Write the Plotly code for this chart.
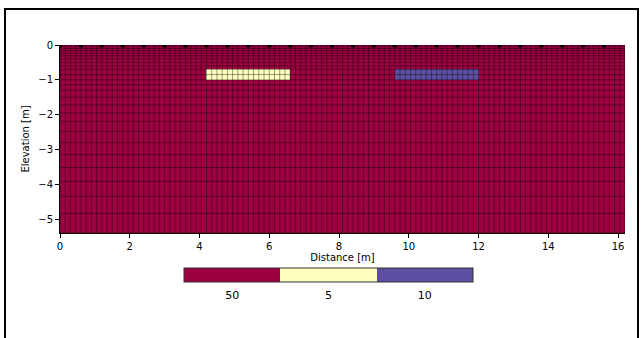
import numpy as np
import plotly.graph_objects as go

# ---- data ----
x_edges = np.round(np.arange(0, 16.2001, 0.15), 4)          # mesh column edges [m]
depth_edges = [0, 0.05, 0.1, 0.16, 0.23, 0.31, 0.4, 0.5, 0.6, 0.7, 0.85, 1.0,
               1.14, 1.3, 1.5, 1.72, 1.95, 2.2, 2.48, 2.8, 3.15, 3.52, 3.92,
               4.35, 4.84, 5.4]                                # mesh row edges [m]
electrodes = [0.0, 0.6, 1.2, 1.8, 2.4, 3.0, 3.6, 4.2, 4.8, 5.4, 6.0, 6.6, 7.2,
              7.8, 8.4, 9.0, 9.6, 10.2, 10.8, 11.4, 12.0, 12.6, 13.2, 13.8,
              14.4, 15.0, 15.6]
category_labels = ["50", "5", "10"]      # resistivity classes
background_class = 0
anomaly_x0 = [4.2, 9.6]
anomaly_x1 = [6.6, 12.0]
anomaly_top = [-0.7, -0.7]
anomaly_bottom = [-1.0, -1.0]
anomaly_class = [1, 2]
class_colors = ["#9e0142", "#feffbe", "#5e4fa2"]

# ---- build cell values ----
y_edges = np.array(sorted([-d for d in depth_edges]))
xc = 0.5 * (x_edges[:-1] + x_edges[1:])
yc = 0.5 * (y_edges[:-1] + y_edges[1:])
z = np.full((len(yc), len(xc)), background_class, dtype=float)
for a0, a1, t, b, c in zip(anomaly_x0, anomaly_x1, anomaly_top, anomaly_bottom, anomaly_class):
    mask_x = (xc > a0) & (xc < a1)
    mask_y = (yc < t) & (yc > b)
    z[np.ix_(mask_y, mask_x)] = c

n = len(class_colors)
colorscale = []
for i, c in enumerate(class_colors):
    colorscale.append([i / n, c])
    colorscale.append([(i + 1) / n, c])

fig = go.Figure()
fig.add_trace(go.Heatmap(
    x=x_edges, y=y_edges, z=z, zmin=-0.5, zmax=n - 0.5,
    colorscale=colorscale, hoverinfo="skip",
    colorbar=dict(orientation="h", x=(328.5 - 60) / 565, xanchor="center",
                  y=(233 - 268) / 188, yanchor="top", xpad=0, ypad=0,
                  len=289, lenmode="pixels", thickness=14, thicknessmode="pixels",
                  tickvals=list(range(n)), ticktext=category_labels,
                  ticks="outside", ticklen=4, tickcolor="rgba(0,0,0,0)",
                  outlinewidth=1, outlinecolor="#333",
                  tickfont=dict(family="DejaVu Sans", size=11, color="black")),
))

# mesh lines
lx, ly = [], []
y0, y1 = float(y_edges[0]), float(y_edges[-1])
for xv in x_edges:
    lx += [float(xv), float(xv), None]
    ly += [y0, y1, None]
x0, x1 = float(x_edges[0]), float(x_edges[-1])
for yv in y_edges:
    lx += [x0, x1, None]
    ly += [float(yv), float(yv), None]
fig.add_trace(go.Scatter(x=lx, y=ly, mode="lines", hoverinfo="skip", showlegend=False,
                         line=dict(color="rgba(0,0,0,0.65)", width=0.6)))

fig.add_trace(go.Scatter(x=electrodes, y=[0] * len(electrodes), mode="markers",
                         showlegend=False, hoverinfo="skip",
                         marker=dict(color="black", size=5)))

fig.update_layout(
    width=643, height=338,
    margin=dict(l=60, r=18, t=45, b=105),
    paper_bgcolor="white", plot_bgcolor="white",
    font=dict(family="DejaVu Sans", size=10, color="black"),
    showlegend=False,
    xaxis=dict(range=[0, 16.2], dtick=2, tick0=0, ticks="outside", ticklen=4,
               tickcolor="black", showgrid=False, zeroline=False,
               showline=True, linecolor="black", linewidth=0.8,
               title=dict(text="Distance [m]", standoff=2,
                          font=dict(family="DejaVu Sans", size=10))),
    yaxis=dict(range=[-5.4, 0], dtick=1, tick0=0, ticks="outside", ticklen=4,
               tickcolor="black", showgrid=False, zeroline=False,
               showline=True, linecolor="black", linewidth=0.8,
               title=dict(text="Elevation [m]", standoff=6,
                          font=dict(family="DejaVu Sans", size=10))),
    shapes=[dict(type="rect", xref="paper", yref="paper",
                 x0=(5 - 60) / 565, x1=(638 - 60) / 565,
                 y0=(233 - 9) / 188, y1=(233 - 360) / 188,
                 line=dict(color="black", width=2))],
)

fig.write_html("out.html", config={"displayModeBar": False},
               post_script="document.body.style.margin='0';document.body.style.overflow='hidden';")
